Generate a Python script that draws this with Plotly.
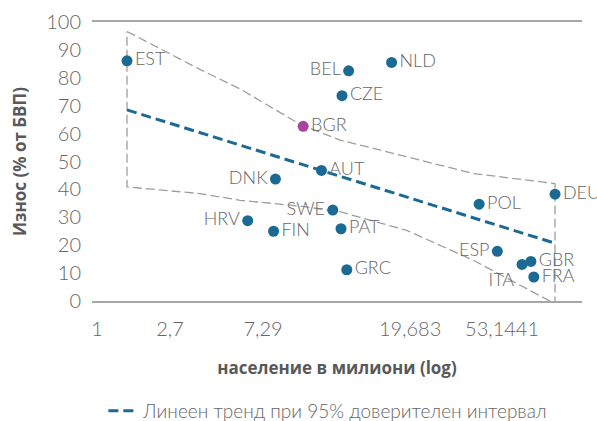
import plotly.graph_objects as go

# ---- data ----
countries = ["EST", "HRV", "FIN", "DNK", "BGR", "AUT", "SWE", "PAT", "CZE", "GRC",
             "BEL", "NLD", "POL", "ESP", "ITA", "GBR", "FRA", "DEU"]
population_mln = [1.3, 4.2, 5.4, 5.5, 7.2, 8.6, 9.6, 10.4, 10.5, 11.0,
                  11.2, 17.0, 39.8, 47.5, 60.4, 65.8, 67.7, 83.2]
wear_pct_gdp = [86.1, 28.8, 25.0, 43.7, 62.6, 46.8, 32.6, 25.9, 73.6, 11.2,
                82.5, 85.5, 34.7, 17.8, 13.1, 14.2, 8.6, 38.3]

trend_x = [1.3, 83.2]
trend_y = [68.5, 20.7]

band_x = [1.3, 2.64, 3.9, 7.0, 10.3, 19.7, 37.6, 83.2]
band_upper = [96.6, 83.0, 76.0, 63.3, 57.7, 51.7, 45.7, 42.1]
band_lower = [40.9, 38.5, 36.1, 34.0, 32.0, 25.3, 14.6, -1.0]

x_tick_vals = [0.971, 1.974, 4.875, 20.35, 49.74]
x_tick_text = ["1", "2,7", "7,29", "19,683", "53,1441"]
y_tick_vals = [0, 10, 20, 30, 40, 50, 60, 70, 80, 90, 100]

highlight = "BGR"

# ---- style ----
BLUE = "#1b6a94"
MAGENTA = "#a8449e"
GRAY_LINE = "#a6a6a6"
TEXT = "#666666"
TITLE = "#595959"
FONT = "Lato"
TFONT = "Open Sans"

label_pos = {
    "EST": "middle right", "HRV": "middle left", "FIN": "middle right",
    "DNK": "middle left", "BGR": "middle right", "AUT": "middle right",
    "SWE": "middle left", "PAT": "middle right", "CZE": "middle right",
    "GRC": "middle right", "BEL": "middle left", "NLD": "middle right",
    "POL": "middle right", "ESP": "middle left", "ITA": "bottom left",
    "GBR": "middle right", "FRA": "middle right", "DEU": "middle right",
}

fig = go.Figure()

# confidence band outline (closed polygon)
poly_x = band_x + band_x[::-1] + [band_x[0]]
poly_y = band_upper + band_lower[::-1] + [band_upper[0]]
fig.add_trace(go.Scatter(
    x=poly_x, y=poly_y, mode="lines",
    line=dict(color="#9e9e9e", width=1.3, dash="9px,4px"),
    showlegend=False, hoverinfo="skip", cliponaxis=False,
))

# trend line
fig.add_trace(go.Scatter(
    x=trend_x, y=trend_y, mode="lines",
    line=dict(color=BLUE, width=3, dash="10px,5px"),
    name="Линеен тренд при 95% доверителен интервал",
    showlegend=True, hoverinfo="skip",
))

# points
colors = [MAGENTA if c == highlight else BLUE for c in countries]
fig.add_trace(go.Scatter(
    x=population_mln, y=wear_pct_gdp, mode="markers+text",
    text=countries,
    textposition=[label_pos[c] for c in countries],
    textfont=dict(family=FONT, size=18, color=TEXT, weight=300),
    marker=dict(size=11, color=colors),
    showlegend=False, cliponaxis=False,
))

fig.update_layout(
    width=597, height=421,
    margin=dict(l=92, r=15, t=22, b=120, autoexpand=False),
    paper_bgcolor="white", plot_bgcolor="white",
    font=dict(family=FONT, size=18, color=TEXT, weight=300),
    showlegend=True,
    legend=dict(
        orientation="h", xref="container", yref="container",
        x=0.55, xanchor="center", y=0.024, yanchor="middle",
        font=dict(family=FONT, size=19, color=TEXT, weight=300),
        bgcolor="rgba(0,0,0,0)",
    ),
    xaxis=dict(
        type="log", range=[-0.0338, 2.034], automargin=False,
        tickmode="array", tickvals=x_tick_vals, ticktext=x_tick_text,
        showgrid=False, zeroline=False,
        showline=True, linecolor=GRAY_LINE, linewidth=1.5, mirror=True,
        ticks="", ticklabelstandoff=9,
        tickfont=dict(family=FONT, size=20, color=TEXT, weight=300),
        title=dict(text="население в милиони (log)", standoff=23,
                   font=dict(family=TFONT, size=17, color=TITLE, weight=700)),
    ),
    yaxis=dict(
        range=[0, 100], tickmode="array", tickvals=y_tick_vals, automargin=False,
        showgrid=False, zeroline=False, showline=False,
        ticks="", ticklabelstandoff=10,
        tickfont=dict(family=FONT, size=20, color=TEXT, weight=300),
        title=dict(text="Износ (% от БВП)", standoff=15,
                   font=dict(family=TFONT, size=17, color=TITLE, weight=700)),
    ),
)

fig.write_html(
    "out.html",
    config={"displayModeBar": False},
    post_script="document.body.style.margin='0';document.body.style.overflow='hidden';",
)
